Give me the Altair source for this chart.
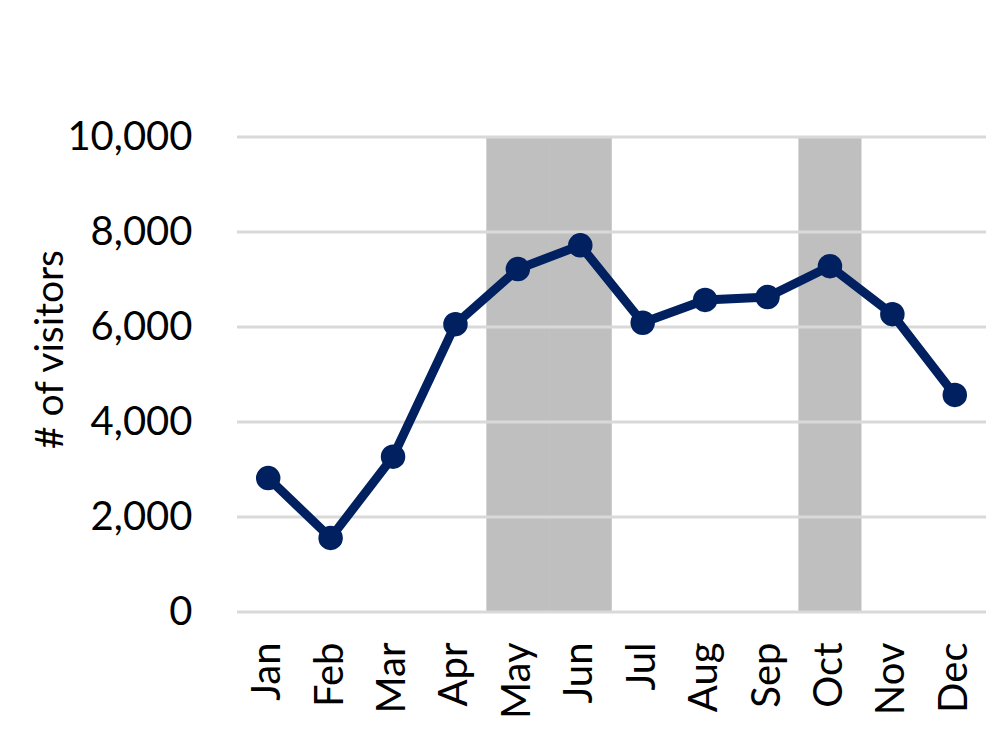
import altair as alt
import pandas as pd

months = ["Jan", "Feb", "Mar", "Apr", "May", "Jun", "Jul", "Aug", "Sep", "Oct", "Nov", "Dec"]
visitors = [2820, 1560, 3270, 6060, 7220, 7720, 6090, 6570, 6630, 7280, 6270, 4570]
highlight_months = ["May", "Jun", "Oct"]
y_ticks = [0, 2000, 4000, 6000, 8000, 10000]

df = pd.DataFrame({"month": months, "visitors": visitors})
hl = pd.DataFrame({"month": highlight_months})

FONT = "Lato"
FS = 40

x_scale = alt.Scale(domain=months, paddingInner=0, paddingOuter=0)
x_axis = alt.Axis(title=None, labelAngle=-90, labelFontSize=FS, labelFont=FONT,
                  labelColor="black", ticks=False, domain=False, labelPadding=30,
                  grid=False)
y_scale = alt.Scale(domain=[0, 10000], nice=False)
y_axis = alt.Axis(values=y_ticks, format=",.0f", title="# of visitors", labelFontSize=FS,
                  labelFont=FONT, labelColor="black", ticks=False, domain=False,
                  labelPadding=45, grid=False, titleFont=FONT, titleFontSize=39,
                  titleFontWeight="normal", titleColor="black",
                  titleX=-187, titleY=212, titleAngle=-90, titleAlign="center",
                  titleBaseline="middle")

bands = alt.Chart(hl).mark_rect(color="#BFBFBF", stroke="#BFBFBF", strokeWidth=0.6).encode(
    x=alt.X("month:N", sort=months, scale=x_scale, axis=x_axis),
    y=alt.datum(10000, scale=y_scale, axis=y_axis, type="quantitative"),
    y2=alt.datum(0),
)

grid = alt.Chart(pd.DataFrame({"v": y_ticks})).mark_rule(color="#D9D9D9", strokeWidth=3).encode(
    y=alt.Y("v:Q", scale=y_scale, axis=y_axis),
)

line = alt.Chart(df).mark_line(color="#002060", strokeWidth=9,
                               point=alt.OverlayMarkDef(color="#002060", size=600, filled=True, opacity=1)).encode(
    x=alt.X("month:N", sort=months, scale=x_scale, axis=x_axis),
    y=alt.Y("visitors:Q", scale=y_scale, axis=y_axis),
)

chart = alt.layer(bands, grid, line).properties(
    width=749, height=475,
    background="white",
    autosize=alt.AutoSizeParams(type="none"),
    padding={"left": 229, "top": 129, "right": 5, "bottom": 130},
).configure_view(strokeWidth=0, stroke="transparent")

chart.save("out.html", embed_options={"renderer": "svg", "actions": False})
